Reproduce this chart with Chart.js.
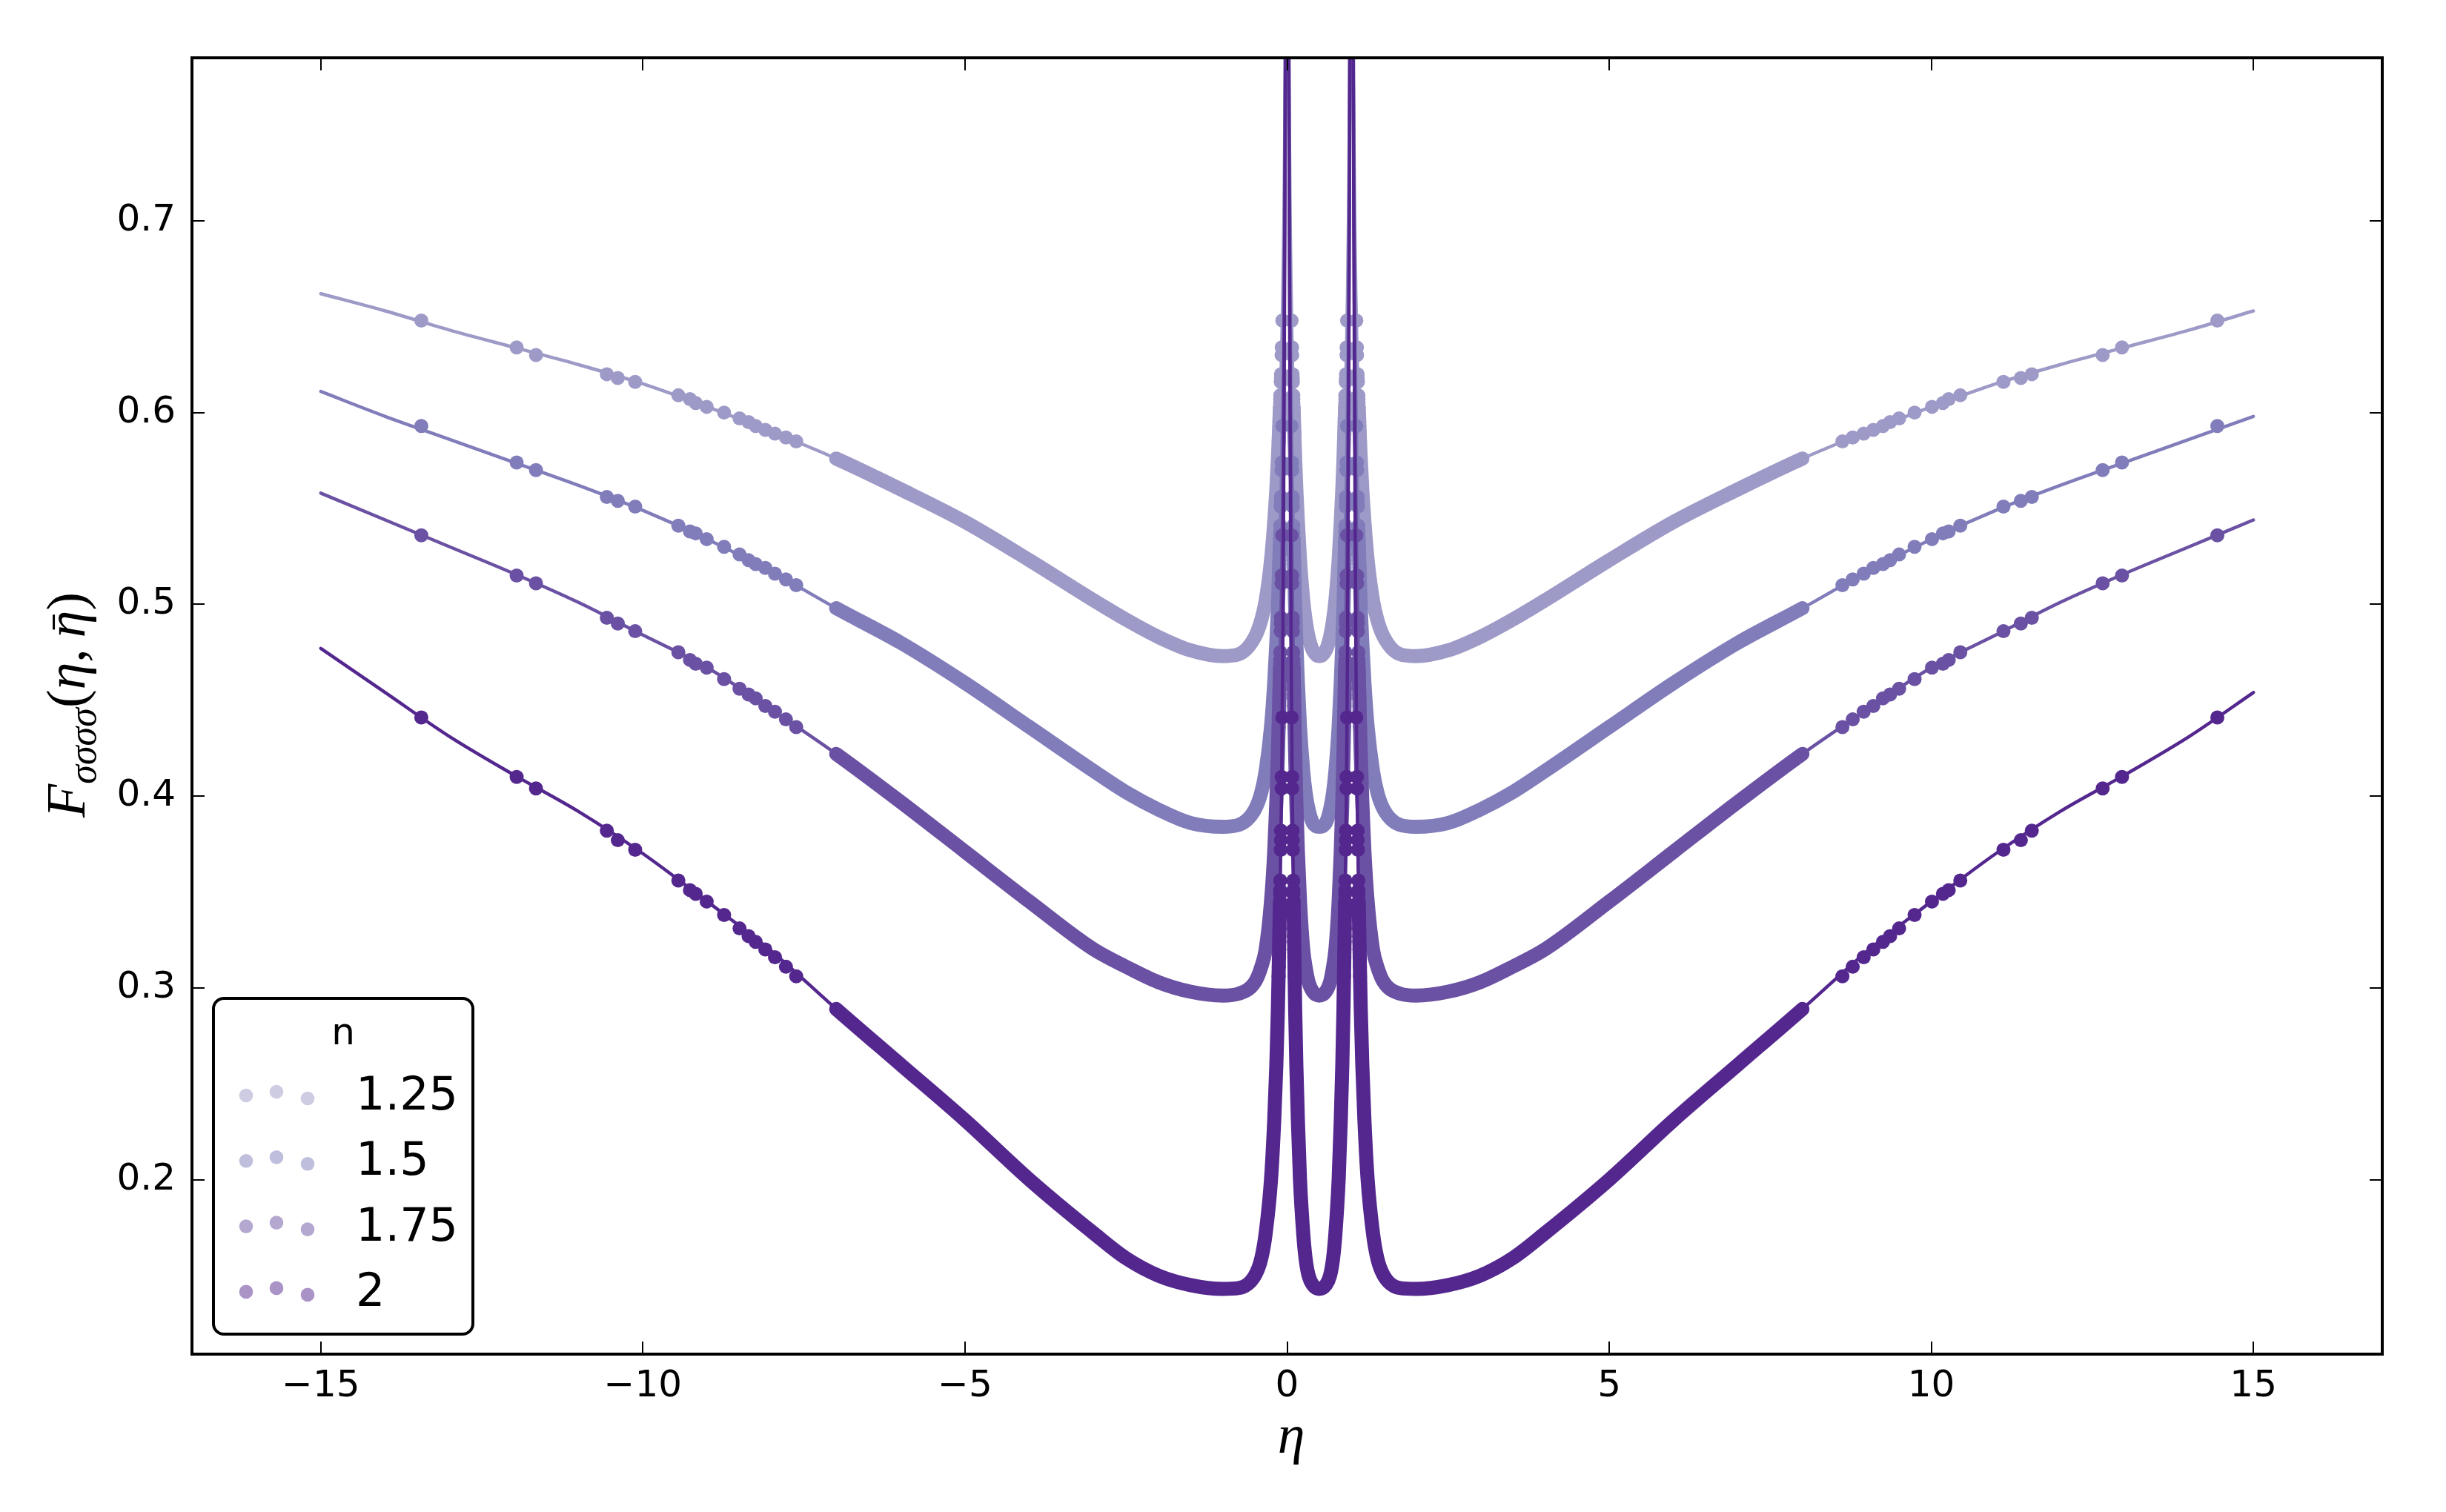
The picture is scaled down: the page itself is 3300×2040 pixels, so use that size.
<!DOCTYPE html>
<html>
<head>
<meta charset="utf-8">
<title>F sigma four-point function</title>
<script src="https://cdn.jsdelivr.net/npm/chart.js@4.4.1/dist/chart.umd.min.js"></script>
<style>
  html, body { margin: 0; padding: 0; background: #fff; }
  canvas { display: block; }
</style>
</head>
<body>
<canvas id="chart" width="3300" height="2040"></canvas>
<script>
// eta positions of the drawn curves (left tail, between the poles, right tail)
const etaLine = [
  -15, -14, -13, -12, -11, -10, -9, -8, -7, -6, -5, -4, -3, -2.5, -2, -1.5, -1,
  -0.75, -0.5, -0.4, -0.333, -0.25, -0.2, -0.167, -0.143, -0.125, -0.111,
  -0.1, -0.083, -0.067, -0.05, -0.033, -0.02, -0.004,
  0.004, 0.02, 0.032, 0.048, 0.0625, 0.077, 0.091, 0.1, 0.111, 0.125,
  0.143, 0.167, 0.2, 0.25, 0.286, 0.333, 0.4, 0.5, 0.6, 0.667,
  0.714, 0.75, 0.8, 0.833, 0.857, 0.875, 0.889, 0.9, 0.909, 0.923,
  0.9375, 0.952, 0.968, 0.98, 0.996,
  1.004, 1.02, 1.033, 1.05, 1.067, 1.083, 1.1, 1.111, 1.125, 1.143,
  1.167, 1.2, 1.25, 1.333, 1.4, 1.5, 1.75, 2, 2.5, 3,
  3.5, 4, 5, 6, 7, 8, 9, 10, 11, 12, 13, 14, 15
];

// curve values, one array per n
const lineN125 = [
  0.662, 0.653, 0.643, 0.634, 0.625, 0.615, 0.603, 0.590, 0.576, 0.560, 0.543, 0.523, 0.502, 0.492, 0.483, 0.476, 0.473,
  0.474, 0.483, 0.492, 0.502, 0.523, 0.543, 0.560, 0.576, 0.590, 0.603,
  0.615, 0.634, 0.662, 0.700, 0.760, 0.840, 1.2,
  1.2, 0.840, 0.760, 0.700, 0.662, 0.634, 0.615, 0.603, 0.590, 0.576,
  0.560, 0.543, 0.523, 0.502, 0.492, 0.483, 0.476, 0.473, 0.476, 0.483,
  0.492, 0.502, 0.523, 0.543, 0.560, 0.576, 0.590, 0.603, 0.615, 0.634,
  0.662, 0.700, 0.760, 0.840, 1.2,
  1.2, 0.840, 0.760, 0.700, 0.662, 0.634, 0.615, 0.603, 0.590, 0.576,
  0.560, 0.543, 0.523, 0.502, 0.492, 0.483, 0.474, 0.473, 0.476, 0.483,
  0.492, 0.502, 0.523, 0.543, 0.560, 0.576, 0.590, 0.603, 0.615, 0.625, 0.634, 0.643, 0.653
];
const lineN150 = [
  0.611, 0.598, 0.586, 0.574, 0.562, 0.549, 0.534, 0.517, 0.498, 0.480, 0.459, 0.436, 0.413, 0.402, 0.393, 0.386, 0.384,
  0.385, 0.393, 0.402, 0.413, 0.436, 0.459, 0.480, 0.498, 0.517, 0.534,
  0.549, 0.574, 0.611, 0.660, 0.740, 0.850, 1.2,
  1.2, 0.850, 0.740, 0.660, 0.611, 0.574, 0.549, 0.534, 0.517, 0.498,
  0.480, 0.459, 0.436, 0.413, 0.402, 0.393, 0.386, 0.384, 0.386, 0.393,
  0.402, 0.413, 0.436, 0.459, 0.480, 0.498, 0.517, 0.534, 0.549, 0.574,
  0.611, 0.660, 0.740, 0.850, 1.2,
  1.2, 0.850, 0.740, 0.660, 0.611, 0.574, 0.549, 0.534, 0.517, 0.498,
  0.480, 0.459, 0.436, 0.413, 0.402, 0.393, 0.385, 0.384, 0.386, 0.393,
  0.402, 0.413, 0.436, 0.459, 0.480, 0.498, 0.517, 0.534, 0.549, 0.562, 0.574, 0.586, 0.598
];
const lineN175 = [
  0.558, 0.544, 0.530, 0.516, 0.501, 0.484, 0.467, 0.445, 0.422, 0.397, 0.371, 0.345, 0.320, 0.311, 0.303, 0.298, 0.296,
  0.297, 0.303, 0.311, 0.320, 0.345, 0.371, 0.397, 0.422, 0.445, 0.467,
  0.484, 0.516, 0.558, 0.620, 0.720, 0.850, 1.2,
  1.2, 0.850, 0.720, 0.620, 0.558, 0.516, 0.484, 0.467, 0.445, 0.422,
  0.397, 0.371, 0.345, 0.320, 0.311, 0.303, 0.298, 0.296, 0.298, 0.303,
  0.311, 0.320, 0.345, 0.371, 0.397, 0.422, 0.445, 0.467, 0.484, 0.516,
  0.558, 0.620, 0.720, 0.850, 1.2,
  1.2, 0.850, 0.720, 0.620, 0.558, 0.516, 0.484, 0.467, 0.445, 0.422,
  0.397, 0.371, 0.345, 0.320, 0.311, 0.303, 0.297, 0.296, 0.298, 0.303,
  0.311, 0.320, 0.345, 0.371, 0.397, 0.422, 0.445, 0.467, 0.484, 0.501, 0.516, 0.530, 0.544
];
const lineN200 = [
  0.477, 0.454, 0.431, 0.411, 0.392, 0.370, 0.345, 0.319, 0.289, 0.260, 0.231, 0.200, 0.172, 0.159, 0.150, 0.145, 0.143,
  0.1435, 0.150, 0.159, 0.172, 0.200, 0.231, 0.260, 0.289, 0.319, 0.345,
  0.370, 0.411, 0.477, 0.580, 0.720, 0.900, 1.2,
  1.2, 0.900, 0.720, 0.580, 0.477, 0.411, 0.370, 0.345, 0.319, 0.289,
  0.260, 0.231, 0.200, 0.172, 0.159, 0.150, 0.145, 0.143, 0.145, 0.150,
  0.159, 0.172, 0.200, 0.231, 0.260, 0.289, 0.319, 0.345, 0.370, 0.411,
  0.477, 0.580, 0.720, 0.900, 1.2,
  1.2, 0.900, 0.720, 0.580, 0.477, 0.411, 0.370, 0.345, 0.319, 0.289,
  0.260, 0.231, 0.200, 0.172, 0.159, 0.150, 0.1435, 0.143, 0.145, 0.150,
  0.159, 0.172, 0.200, 0.231, 0.260, 0.289, 0.319, 0.345, 0.370, 0.392, 0.411, 0.431, 0.454
];

// sparse sample points: the same values appear at six eta positions each
const dotTailLeft = [-13.44, -11.96, -11.66, -10.56, -10.39, -10.12, -9.45, -9.27, -9.18, -9.01, -8.74, -8.5, -8.36, -8.25, -8.1, -7.95, -7.78, -7.62];
const dotTailRight = [14.44, 12.96, 12.66, 11.56, 11.39, 11.12, 10.45, 10.27, 10.18, 10.01, 9.74, 9.5, 9.36, 9.25, 9.1, 8.95, 8.78, 8.62];
const dotZeroLeft = [-0.074, -0.084, -0.086, -0.095, -0.096, -0.099, -0.106, -0.108, -0.109, -0.111, -0.114, -0.118, -0.12, -0.121, -0.123, -0.126, -0.129, -0.131];
const dotZeroRight = [0.069, 0.077, 0.079, 0.086, 0.088, 0.09, 0.096, 0.097, 0.098, 0.1, 0.103, 0.105, 0.107, 0.108, 0.11, 0.112, 0.114, 0.116];
const dotOneLeft = [0.931, 0.923, 0.921, 0.914, 0.912, 0.91, 0.904, 0.903, 0.902, 0.9, 0.897, 0.895, 0.893, 0.892, 0.89, 0.888, 0.886, 0.884];
const dotOneRight = [1.074, 1.084, 1.086, 1.095, 1.096, 1.099, 1.106, 1.108, 1.109, 1.111, 1.114, 1.118, 1.12, 1.121, 1.123, 1.126, 1.129, 1.131];

const dotN125 = [0.648, 0.634, 0.630, 0.620, 0.618, 0.616, 0.609, 0.607, 0.605, 0.603, 0.600, 0.597, 0.595, 0.593, 0.591, 0.589, 0.587, 0.585];
const dotN150 = [0.593, 0.574, 0.570, 0.556, 0.554, 0.551, 0.541, 0.538, 0.537, 0.534, 0.530, 0.526, 0.523, 0.521, 0.519, 0.516, 0.513, 0.510];
const dotN175 = [0.536, 0.515, 0.511, 0.493, 0.490, 0.486, 0.475, 0.471, 0.469, 0.467, 0.461, 0.456, 0.453, 0.451, 0.447, 0.444, 0.440, 0.436];
const dotN200 = [0.441, 0.410, 0.404, 0.382, 0.377, 0.372, 0.356, 0.351, 0.349, 0.345, 0.338, 0.331, 0.327, 0.324, 0.320, 0.316, 0.311, 0.306];

const nLabels = ['1.25', '1.5', '1.75', '2'];
const xTicks = [-15, -10, -5, 0, 5, 10, 15];
const yTicks = [0.2, 0.3, 0.4, 0.5, 0.6, 0.7];

// styling
const lineColors = ['#9e9ac8', '#807dba', '#6a51a3', '#54278f'];
const legendColors = ['rgba(158,154,200,0.5)', 'rgba(128,125,186,0.5)', 'rgba(106,81,163,0.5)', 'rgba(84,39,143,0.5)'];
const bandCeiling = [0.607, 0.54, 0.47, 0.358];   // dense sampling drawn as a thick stroke below this
const bandFrom = -7.05, bandTo = 8.05;
const thinWidth = 4.5, bandWidth = 19, dotRadius = 9.5;

const lines = [lineN125, lineN150, lineN175, lineN200];
const dotValues = [dotN125, dotN150, dotN175, dotN200];
const dotPositions = [dotTailLeft, dotTailRight, dotZeroLeft, dotZeroRight, dotOneLeft, dotOneRight];

function segmentWidth(s) {
    const ys = lines[s];
    return function(ctx) {
        const i0 = ctx.p0DataIndex, i1 = ctx.p1DataIndex;
        const inside = etaLine[i0] >= bandFrom && etaLine[i1] <= bandTo;
        const low = Math.max(ys[i0], ys[i1]) <= bandCeiling[s];
        return inside && low ? bandWidth : thinWidth;
    };
}

// darkest series first so it is drawn on top
const datasets = [];
for (let s = lines.length - 1; s >= 0; s--) {
    datasets.push({
        type: 'line',
        label: nLabels[s],
        data: etaLine.map((x, i) => ({ x: x, y: lines[s][i] })),
        borderColor: lineColors[s],
        borderWidth: thinWidth,
        borderCapStyle: 'round',
        borderJoinStyle: 'round',
        cubicInterpolationMode: 'monotone',
        pointRadius: 0,
        clip: 0,
        segment: { borderWidth: segmentWidth(s) }
    });
    datasets.push({
        type: 'scatter',
        label: nLabels[s] + ' samples',
        data: dotPositions.flatMap(xs => xs.map((x, i) => ({ x: x, y: dotValues[s][i] }))),
        pointRadius: dotRadius,
        pointBorderWidth: 0,
        pointBackgroundColor: lineColors[s],
        showLine: false,
        clip: 0
    });
}

// frame and inward tick marks on all four sides
const framePlugin = {
    id: 'frame',
    afterDatasetsDraw(chart) {
        const { ctx, chartArea: a, scales } = chart;
        const tl = 17;
        ctx.save();
        ctx.strokeStyle = '#000';
        ctx.lineWidth = 2;
        ctx.beginPath();
        scales.x.ticks.forEach(t => {
            const px = Math.round(scales.x.getPixelForValue(t.value));
            ctx.moveTo(px, a.bottom); ctx.lineTo(px, a.bottom - tl);
            ctx.moveTo(px, a.top); ctx.lineTo(px, a.top + tl);
        });
        scales.y.ticks.forEach(t => {
            const py = Math.round(scales.y.getPixelForValue(t.value));
            ctx.moveTo(a.left, py); ctx.lineTo(a.left + tl, py);
            ctx.moveTo(a.right, py); ctx.lineTo(a.right - tl, py);
        });
        ctx.stroke();
        ctx.lineWidth = 4;
        ctx.strokeRect(a.left, a.top, a.right - a.left, a.bottom - a.top);
        ctx.restore();
    }
};

// legend box with title n and three sample dots per entry
const legendPlugin = {
    id: 'nLegend',
    afterDraw(chart) {
        const ctx = chart.ctx;
        const bx = 288, by = 1347, bw = 350, bh = 453, r = 14;
        ctx.save();
        ctx.beginPath();
        ctx.moveTo(bx + r, by);
        ctx.arcTo(bx + bw, by, bx + bw, by + bh, r);
        ctx.arcTo(bx + bw, by + bh, bx, by + bh, r);
        ctx.arcTo(bx, by + bh, bx, by, r);
        ctx.arcTo(bx, by, bx + bw, by, r);
        ctx.closePath();
        ctx.fillStyle = '#fff';
        ctx.fill();
        ctx.lineWidth = 4;
        ctx.strokeStyle = '#000';
        ctx.stroke();

        ctx.fillStyle = '#000';
        ctx.font = '50px "DejaVu Sans"';
        ctx.textAlign = 'center';
        ctx.textBaseline = 'alphabetic';
        ctx.fillText('n', 463, 1409);

        const dotX = [332, 373, 415];
        const dotDy = [-19, -24, -15];
        ctx.textAlign = 'left';
        ctx.font = '62px "DejaVu Sans"';
        nLabels.forEach((lab, i) => {
            const base = 1497 + i * 88.3;
            ctx.fillStyle = legendColors[i];
            for (let k = 0; k < 3; k++) {
                ctx.beginPath();
                ctx.arc(dotX[k], base + dotDy[k], 9.3, 0, Math.PI * 2);
                ctx.fill();
            }
            ctx.fillStyle = '#000';
            ctx.fillText(lab, 480, base);
        });
        ctx.restore();
    }
};

// axis titles written as math: eta and F_{sigma sigma sigma sigma}(eta, eta-bar)
const titlePlugin = {
    id: 'mathTitles',
    afterDraw(chart) {
        const ctx = chart.ctx;
        const size = 74;
        const it = 'italic ' + size + 'px "Liberation Serif"';
        const up = size + 'px "Liberation Serif"';
        const sub = 'italic ' + Math.round(size * 0.7) + 'px "Liberation Serif"';
        ctx.save();
        ctx.fillStyle = '#000';
        ctx.strokeStyle = '#000';
        ctx.textBaseline = 'alphabetic';
        ctx.textAlign = 'center';
        ctx.font = it;
        ctx.fillText('\u03b7', 1742, 1960);

        const runs = [
            { t: 'F', f: it, dy: 0 },
            { t: '\u03c3\u03c3\u03c3\u03c3', f: sub, dy: 15 },
            { t: '(', f: up, dy: 0 },
            { t: '\u03b7', f: it, dy: 0 },
            { t: ',\u2009', f: up, dy: 0 },
            { t: '\u03b7', f: it, dy: 0, bar: true },
            { t: ')', f: up, dy: 0 }
        ];
        let total = 0;
        runs.forEach(run => { ctx.font = run.f; run.w = ctx.measureText(run.t).width; total += run.w; });
        ctx.translate(114, 951);
        ctx.rotate(-Math.PI / 2);
        ctx.textAlign = 'left';
        let x = -total / 2;
        runs.forEach(run => {
            ctx.font = run.f;
            ctx.fillText(run.t, x, run.dy);
            if (run.bar) {
                ctx.lineWidth = 3;
                ctx.beginPath();
                ctx.moveTo(x + run.w * 0.3, -size * 0.56);
                ctx.lineTo(x + run.w * 0.85, -size * 0.56);
                ctx.stroke();
            }
            x += run.w;
        });
        ctx.restore();
    }
};

const tickFont = { family: 'DejaVu Sans', size: 50 };

new Chart(document.getElementById('chart').getContext('2d'), {
    type: 'line',
    data: { datasets: datasets },
    options: {
        responsive: false,
        animation: false,
        devicePixelRatio: 1,
        events: [],
        layout: { padding: { top: 78, right: 86, left: 0, bottom: 0 } },
        plugins: { legend: { display: false }, tooltip: { enabled: false } },
        scales: {
            x: {
                type: 'linear',
                min: -17,
                max: 17,
                afterBuildTicks: scale => { scale.ticks = xTicks.map(v => ({ value: v })); },
                afterFit: scale => { scale.height = 213; },
                grid: { display: false, drawTicks: false },
                border: { display: false },
                ticks: {
                    font: tickFont,
                    color: '#000',
                    padding: 14,
                    autoSkip: false,
                    maxRotation: 0,
                    callback: v => (v < 0 ? '\u2212' + Math.abs(v) : String(v))
                }
            },
            y: {
                type: 'linear',
                min: 0.109,
                max: 0.785,
                afterBuildTicks: scale => { scale.ticks = yTicks.map(v => ({ value: v })); },
                afterFit: scale => { scale.width = 259; },
                grid: { display: false, drawTicks: false },
                border: { display: false },
                ticks: {
                    font: tickFont,
                    color: '#000',
                    padding: 22,
                    autoSkip: false,
                    callback: v => v.toFixed(1)
                }
            }
        }
    },
    plugins: [framePlugin, legendPlugin, titlePlugin]
});
</script>
</body>
</html>
